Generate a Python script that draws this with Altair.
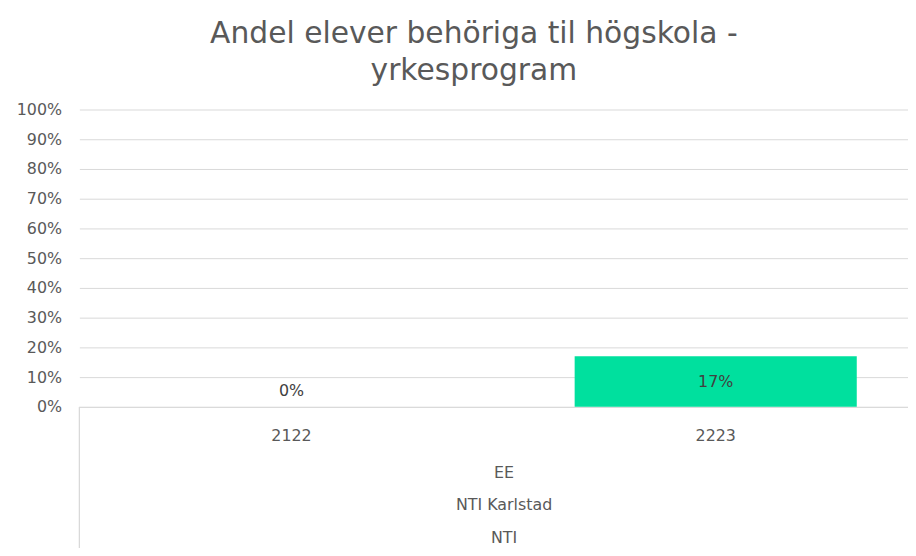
import altair as alt
import pandas as pd

years = ["2122", "2223"]
shares = [0.0, 0.17]
level2 = "EE"
level3 = "NTI Karlstad"
level4 = "NTI"
title_lines = ["Andel elever behöriga til högskola -", "yrkesprogram"]
y_ticks = [0, 0.1, 0.2, 0.3, 0.4, 0.5, 0.6, 0.7, 0.8, 0.9, 1.0]

df = pd.DataFrame({"year": years, "share": shares})

FONT = "DejaVu Sans"
GRAY = "#595959"
GRID = "#d9d9d9"

x_axis = alt.Axis(
    title=[level2, level3, level4],
    labelAngle=0,
    ticks=False,
    domainColor=GRID,
    labelPadding=21,
    labelFont=FONT,
    labelFontSize=16,
    labelColor=GRAY,
    titleFont=FONT,
    titleFontSize=16,
    titleFontWeight="normal",
    titleColor=GRAY,
    titleLineHeight=33,
    titlePadding=21,
)
x_scale = alt.Scale(range=[0, 856], paddingInner=0.335, paddingOuter=0.1675)

y_axis = alt.Axis(
    title=None,
    format=".0%",
    values=y_ticks,
    labelOverlap=False,
    grid=True,
    gridColor=GRID,
    domain=False,
    ticks=False,
    labelPadding=18,
    labelFont=FONT,
    labelFontSize=16,
    labelColor=GRAY,
)
y_scale = alt.Scale(domain=[0, 1])

bars = alt.Chart(df).mark_bar(color="#00E09E").encode(
    x=alt.X("year:N", sort=years, scale=x_scale, axis=x_axis),
    y=alt.Y("share:Q", scale=y_scale, axis=y_axis),
)

labels = (
    alt.Chart(df)
    .transform_calculate(lab_y="max(datum.share / 2, 0.053)")
    .mark_text(font=FONT, fontSize=16, color="#404040", baseline="middle")
    .encode(
        x=alt.X("year:N", sort=years, scale=x_scale, axis=x_axis),
        y=alt.Y("lab_y:Q", scale=y_scale, axis=y_axis),
        text=alt.Text("share:Q", format=".0%"),
    )
)

edge = alt.Chart(df).mark_rule(color=GRID, strokeWidth=1).encode(
    x=alt.value(0), y=alt.value(300), y2=alt.value(448)
)

chart = (
    alt.layer(bars, labels, edge)
    .properties(
        width=828,
        height=300,
        autosize=alt.AutoSizeParams(type="none"),
        padding={"left": 72, "top": 100, "right": 8, "bottom": 140},
        title=alt.TitleParams(
            text=title_lines,
            font=FONT,
            fontSize=30,
            fontWeight="normal",
            color=GRAY,
            anchor="middle",
            dx=-16,
            offset=16,
            lineHeight=37,
        ),
    )
    .configure(background="white")
    .configure_view(stroke=None)
)

chart.save("out.html", embed_options={"renderer": "svg", "actions": False})
